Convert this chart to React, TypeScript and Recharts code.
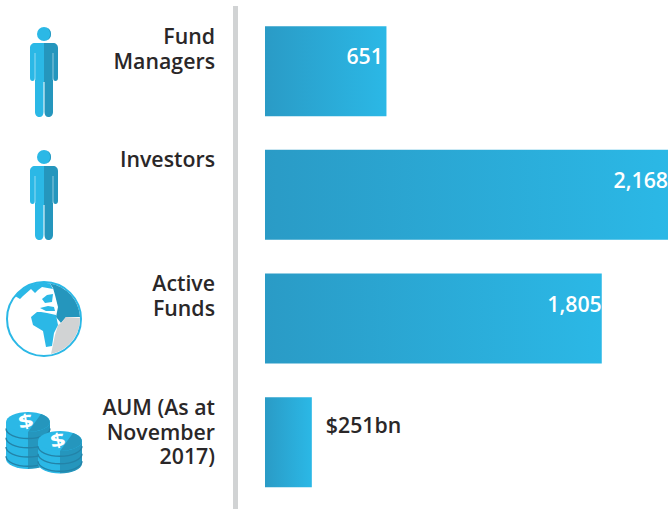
import { BarChart, Bar, XAxis, YAxis, LabelList } from "recharts";

const categories = ["Fund Managers", "Investors", "Active Funds", "AUM"];
const values = [651, 2168, 1805, 251];
const valueLabels = ["651", "2,168", "1,805", "$251bn"];
const categoryLines = [
  ["Fund", "Managers"],
  ["Investors"],
  ["Active", "Funds"],
  ["AUM (As at", "November", "2017)"],
];
const icons = ["person", "person", "globe", "coins"];

const data = categories.map((category, i) => ({
  category,
  value: values[i],
  label: valueLabels[i],
}));

const FONT = "'Open Sans', sans-serif";
const LIGHT = "#2bb8e6";
const DARK = "#2596bd";
const GREY = "#d1d3d4";
const INK = "#2a2728";

const Person = () => (
  <g>
    <circle cx={0} cy={-38} r={7} fill={LIGHT} />
    <path d="M3 -44.3A7 7 0 0 1 3 -31.7A8 8 0 0 0 3 -44.3Z" fill={DARK} />
    <path
      d="M0 -29H-9C-12 -29 -14 -27 -14 -24V6C-14 8 -13 9 -11.5 9C-10 9 -9 8 -9 6V40C-9 43 -7 45 -4.5 45C-2 45 -0.5 43 -0.5 40V10H0Z"
      fill={LIGHT}
    />
    <path
      d="M0 -29H9C12 -29 14 -27 14 -24V6C14 8 13 9 11.5 9C10 9 9 8 9 6V40C9 43 7 45 4.5 45C2 45 0.5 43 0.5 40V10H0Z"
      fill={DARK}
    />
    <path d="M-9 -19V8M9 -19V8" stroke="#fff" strokeWidth={0.7} opacity={0.7} />
  </g>
);

const Globe = () => (
  <g>
    <circle cx={0} cy={0} r={37} fill="#fff" stroke={LIGHT} strokeWidth={2} />
    <path d="M6 -35.5A36 36 0 0 1 36 -2L22 -2L17 4L12 -2L14 -12L11 -24L9 -31Z" fill={DARK} />
    <path d="M22 -2L36 -1A36 36 0 0 1 7 35L11 16L14 6L17 4Z" fill={GREY} />
    <path
      d="M-13 -2L-7 -7L-3 -7L3 -6L12 -4L14 6L10 14L8 27L2 28L-1 12L-11 6Z"
      fill={LIGHT}
    />
    <path
      d="M-29 -23A36 36 0 0 1 6 -35.5L9 -30L-2 -32L-6 -29L-9 -26L-13 -30L-21 -23L-24 -20Z"
      fill={LIGHT}
    />
    <path d="M-2 -20L3 -24L9 -25L8 -17L1 -16Z" fill={LIGHT} />
    <path d="M-4 -11L4 -13L10 -12L11 -8L2 -8Z" fill={LIGHT} />
  </g>
);

const CoinStack = ({ cx, top, layers, step, rx, ry }: any) => {
  const bottom = top + layers * step;
  return (
    <g>
      <path
        d={`M${cx - rx} ${top}V${bottom}A${rx} ${ry} 0 0 0 ${cx} ${bottom + ry}V${top}Z`}
        fill={LIGHT}
      />
      <path
        d={`M${cx + rx} ${top}V${bottom}A${rx} ${ry} 0 0 1 ${cx} ${bottom + ry}V${top}Z`}
        fill={DARK}
      />
      {Array.from({ length: layers }).map((_, i) => (
        <path
          key={i}
          d={`M${cx - rx} ${top + step * (i + 0.7)}A${rx} ${ry} 0 0 0 ${cx + rx} ${top + step * (i + 0.7)}`}
          fill="none"
          stroke="#2383a8"
          strokeWidth={1.4}
        />
      ))}
      <ellipse cx={cx} cy={top} rx={rx} ry={ry} fill={LIGHT} />
      <path d={`M${cx + 13} ${top - ry + 2}A${rx} ${ry} 0 0 1 ${cx} ${top + ry}Z`} fill={DARK} />
      <text
        textAnchor="middle"
        fontFamily={FONT}
        fontWeight={700}
        fontSize={19}
        fill="#fff"
        transform={`translate(${cx - 1} ${top + 6}) rotate(-10) scale(1.4 1)`}
      >
        $
      </text>
    </g>
  );
};

const Coins = () => (
  <g>
    <CoinStack cx={-16} top={-21} layers={4} step={9.25} rx={22} ry={10} />
    <CoinStack cx={16} top={-2} layers={3} step={7.5} rx={22} ry={10} />
  </g>
);

const CategoryTick = ({ y, payload, index }: any) => {
  const i = index ?? categories.indexOf(payload.value);
  const icon = icons[i];
  const rowY = Math.ceil(y);
  return (
    <g>
      <g transform={`translate(44 ${rowY})`}>
        {icon === "person" && <Person />}
        {icon === "globe" && <Globe />}
        {icon === "coins" && <Coins />}
      </g>
      {categoryLines[i].map((line, n) => (
        <text
          key={line}
          x={215}
          y={rowY - 28 + n * 24.6}
          textAnchor="end"
          fontFamily={FONT}
          fontWeight={600}
          fontSize={21.3}
          fill={INK}
        >
          {line}
        </text>
      ))}
    </g>
  );
};

const ValueLabel = ({ x, y, width, height, value }: any) => {
  const outside = width < 60;
  const inset = width < 150 ? 3.5 : 0;
  const right = Math.min(x + width - inset, 668);
  return (
    <text
      x={outside ? x + width + 14 : right}
      y={y + height / 2 + (outside ? -9 : -7)}
      textAnchor={outside ? "start" : "end"}
      fontFamily={FONT}
      fontWeight={600}
      fontSize={21.3}
      fill={outside ? INK : "#fff"}
    >
      {value}
    </text>
  );
};

export default function App() {
  return (
    <div style={{ position: "absolute", left: 0, top: 0, width: 668, height: 509, background: "#fff" }}>
      <BarChart
        width={668}
        height={509}
        data={data}
        layout="vertical"
        margin={{ top: 6, right: 0, bottom: 0, left: 0 }}
      >
        <defs>
          <linearGradient id="barFill" x1="0" y1="0" x2="1" y2="0">
            <stop offset="0%" stopColor="#2a9bc6" />
            <stop offset="100%" stopColor={LIGHT} />
          </linearGradient>
        </defs>
        <XAxis
          type="number"
          hide
          domain={[0, 2160]}
          allowDataOverflow
          padding={{ left: 29.5, right: 0 }}
        />
        <YAxis
          type="category"
          dataKey="category"
          width={235.5}
          interval={0}
          padding={{ top: 3.17, bottom: 5.16 }}
          tickLine={false}
          axisLine={{ stroke: GREY, strokeWidth: 5 }}
          tick={<CategoryTick />}
        />
        <Bar dataKey="value" barSize={90} fill="url(#barFill)" isAnimationActive={false}>
          <LabelList dataKey="label" content={<ValueLabel />} />
        </Bar>
      </BarChart>
    </div>
  );
}
